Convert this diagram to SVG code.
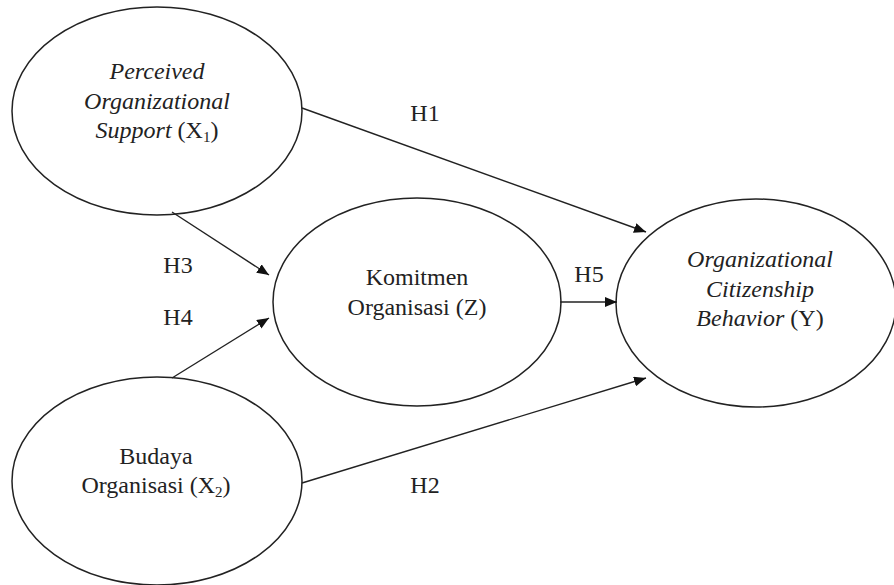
<svg xmlns="http://www.w3.org/2000/svg" width="894" height="585" viewBox="0 0 894 585">
<style>
.node ellipse{fill:#fff;stroke:#222;stroke-width:1.5}
text{font-family:"Liberation Serif","Times New Roman",serif;font-size:24px;fill:#222;text-anchor:middle}
.it{font-style:italic}
.sub{font-size:15px}
.conn line{stroke:#222;stroke-width:1.4;marker-end:url(#ah)}
</style>
<defs>
<marker id="ah" viewBox="0 0 12 10" refX="12" refY="5" markerWidth="12" markerHeight="10" markerUnits="userSpaceOnUse" orient="auto">
<path d="M0,0 L12,5 L0,10 Z" fill="#111"/>
</marker>
</defs>
<rect width="894" height="585" fill="#fff"/>
<g id="x1" class="node">
<ellipse cx="157" cy="111" rx="145" ry="104"/>
<text x="157" y="79" class="it">Perceived</text>
<text x="157" y="109" class="it">Organizational</text>
<text x="157" y="138"><tspan class="it">Support</tspan> (X<tspan class="sub" dy="4">1</tspan><tspan dy="-4">)</tspan></text>
</g>
<g id="z" class="node">
<ellipse cx="417" cy="302" rx="144" ry="104"/>
<text x="417" y="285">Komitmen</text>
<text x="417" y="315">Organisasi (Z)</text>
</g>
<g id="y" class="node">
<ellipse cx="756" cy="303" rx="140" ry="104"/>
<text x="760" y="267" class="it">Organizational</text>
<text x="760" y="297" class="it">Citizenship</text>
<text x="760" y="326"><tspan class="it">Behavior</tspan> (Y)</text>
</g>
<g id="x2" class="node">
<ellipse cx="157" cy="481" rx="145" ry="104"/>
<text x="156" y="464">Budaya</text>
<text x="156" y="493">Organisasi (X<tspan class="sub" dy="4">2</tspan><tspan dy="-4">)</tspan></text>
</g>
<g id="connectors" class="conn">
<line x1="302" y1="108" x2="646" y2="232"/>
<line x1="302" y1="483" x2="646" y2="378"/>
<line x1="172" y1="212" x2="269" y2="275"/>
<line x1="172" y1="378" x2="269" y2="318"/>
<line x1="560" y1="302" x2="617" y2="302"/>
</g>
<g id="labels">
<text x="425" y="121">H1</text>
<text x="425" y="493">H2</text>
<text x="178" y="273">H3</text>
<text x="178" y="325">H4</text>
<text x="589" y="282">H5</text>
</g>
</svg>
